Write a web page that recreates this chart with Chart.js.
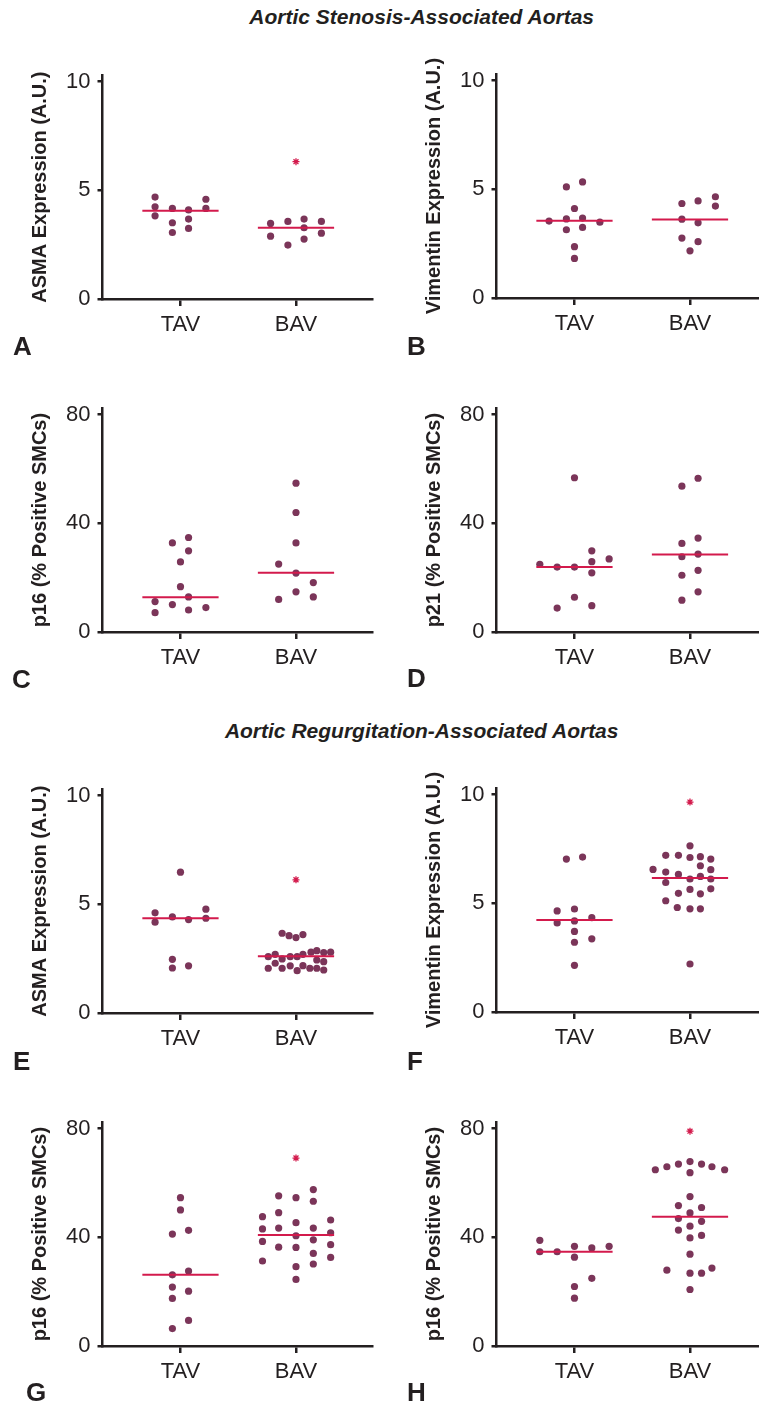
<!DOCTYPE html>
<html>
<head>
<meta charset="utf-8">
<script src="https://cdn.jsdelivr.net/npm/chart.js@4.4.1/dist/chart.umd.min.js"></script>
<style>
  body { margin: 0; background: #fff; }
  #page { position: relative; width: 759px; height: 1404px; overflow: hidden; background: #fff;
          font-family: "Liberation Sans", Arial, Helvetica, sans-serif; color: #231f20; }
  canvas { position: absolute; }
  .head { position: absolute; left: 121.7px; width: 600px; text-align: center;
          font-size: 21px; line-height: 21px; font-weight: bold; font-style: italic; }
  .tag { position: absolute; font-size: 26px; line-height: 26px; font-weight: bold; }
</style>
</head>
<body>
<div id="page">
  <div class="head" style="top:5.5px">Aortic Stenosis-Associated Aortas</div>
  <div class="head" style="top:720px">Aortic Regurgitation-Associated Aortas</div>

  <canvas id="chartA" width="380" height="284" style="left:0;top:55px"></canvas>
  <canvas id="chartB" width="380" height="284" style="left:394px;top:54px"></canvas>
  <canvas id="chartC" width="380" height="284" style="left:0;top:387.5px"></canvas>
  <canvas id="chartD" width="380" height="284" style="left:394px;top:387.5px"></canvas>
  <canvas id="chartE" width="380" height="284" style="left:0;top:769px"></canvas>
  <canvas id="chartF" width="380" height="284" style="left:394px;top:768px"></canvas>
  <canvas id="chartG" width="380" height="284" style="left:0;top:1101.5px"></canvas>
  <canvas id="chartH" width="380" height="284" style="left:394px;top:1101.5px"></canvas>

  <div class="tag" style="left:13px;top:333px">A</div>
  <div class="tag" style="left:407px;top:333px">B</div>
  <div class="tag" style="left:12px;top:666px">C</div>
  <div class="tag" style="left:407px;top:665px">D</div>
  <div class="tag" style="left:13px;top:1048px">E</div>
  <div class="tag" style="left:407px;top:1048px">F</div>
  <div class="tag" style="left:26px;top:1379px">G</div>
  <div class="tag" style="left:407px;top:1379px">H</div>
</div>

<script>
// categories and tick values
const categories = ['TAV', 'BAV'];
const exprTicks = [0, 5, 10];
const pctTicks = [0, 40, 80];

// x values are horizontal spread around each group (in category units), y values are the readings

// A: ASMA, stenosis
const aTavX = [-0.22, -0.22, -0.22, -0.07, -0.07, -0.07, 0.07, 0.07, 0.07, 0.22, 0.22];
const aTavY = [4.69, 4.24, 3.83, 4.17, 3.51, 3.06, 4.10, 3.68, 3.25, 4.59, 4.17];
const aBavX = [-0.22, -0.22, -0.07, -0.07, 0.07, 0.07, 0.07, 0.22, 0.22];
const aBavY = [3.48, 2.89, 3.57, 2.48, 3.68, 3.28, 2.76, 3.57, 3.03];
const aMedians = [4.06, 3.28];
const aStar = 6.32;

// B: Vimentin, stenosis
const bTavX = [-0.22, -0.07, -0.07, -0.07, 0, 0, 0, 0.07, 0.07, 0.07, 0.22];
const bTavY = [3.54, 5.11, 3.64, 3.14, 4.12, 2.36, 1.82, 5.34, 3.68, 3.25, 3.49];
const bBavX = [-0.07, -0.07, -0.07, 0, 0.07, 0.07, 0.07, 0.22, 0.22];
const bBavY = [4.35, 3.63, 2.76, 2.17, 4.47, 3.46, 2.59, 4.66, 4.23];
const bMedians = [3.55, 3.61];
const bStar = null;

// C: p16, stenosis
const cTavX = [-0.22, -0.22, -0.07, -0.07, 0, 0, 0.07, 0.07, 0.07, 0.07, 0.22];
const cTavY = [11.2, 7.1, 32.8, 10.1, 25.8, 16.7, 34.8, 29.9, 12.9, 8.1, 9.0];
const cBavX = [-0.15, -0.15, 0, 0, 0, 0, 0, 0.15, 0.15];
const cBavY = [25.0, 12.0, 54.8, 44.0, 32.8, 21.7, 14.8, 18.2, 12.9];
const cMedians = [12.8, 21.8];
const cStar = null;

// D: p21, stenosis
const dTavX = [-0.30, -0.15, -0.15, 0, 0, 0, 0.15, 0.15, 0.15, 0.15, 0.30];
const dTavY = [24.9, 23.9, 8.8, 56.8, 23.9, 12.8, 29.9, 25.9, 21.8, 9.7, 26.9];
const dBavX = [-0.07, -0.07, -0.07, -0.07, -0.07, 0.07, 0.07, 0.07, 0.07, 0.07];
const dBavY = [53.7, 32.6, 27.7, 20.9, 11.7, 56.6, 34.6, 28.7, 22.7, 14.8];
const dMedians = [23.9, 28.5];
const dStar = null;

// E: ASMA, regurgitation
const eTavX = [-0.22, -0.22, -0.07, -0.07, -0.07, 0, 0.07, 0.07, 0.22, 0.22];
const eTavY = [4.61, 4.18, 4.42, 2.47, 2.07, 6.48, 4.30, 2.17, 4.78, 4.36];
const eBavX = [-0.12, -0.06, 0, 0.06,
               -0.24, -0.18, -0.12, -0.05, 0.01, 0.06, 0.13, 0.18, 0.24, 0.30,
               -0.18, 0.18, 0.24,
               -0.24, -0.12, -0.05, 0.01, 0.06, 0.12, 0.18, 0.24];
const eBavY = [3.67, 3.56, 3.47, 3.61,
               2.59, 2.70, 2.49, 2.59, 2.59, 2.70, 2.80, 2.87, 2.78, 2.80,
               2.29, 2.44, 2.36,
               2.06, 2.06, 2.17, 1.95, 2.18, 2.06, 2.06, 1.98];
const eMedians = [4.36, 2.61];
const eStar = 6.13;

// F: Vimentin, regurgitation
const fTavX = [-0.15, -0.15, -0.07, 0, 0, 0, 0, 0, 0.07, 0.15, 0.15];
const fTavY = [4.65, 4.10, 7.04, 4.74, 4.19, 3.71, 3.21, 2.15, 7.13, 4.34, 3.37];
const fBavX = [0, -0.21, -0.10, 0, 0.09, 0.18, 0.09, -0.32, -0.21, -0.10, 0.18, 0,
               0.09, 0.18, -0.21, 0, -0.10, 0.09, 0.18, -0.21, -0.11, 0, 0.09, 0];
const fBavY = [7.65, 7.21, 7.21, 7.11, 7.15, 7.04, 6.73, 6.56, 6.44, 6.33, 6.55, 6.12,
               6.24, 6.12, 5.96, 5.64, 5.46, 5.44, 5.67, 5.12, 4.81, 4.75, 4.75, 2.21];
const fMedians = [4.23, 6.17];
const fStar = 9.66;

// G: p16, regurgitation
const gTavX = [0, 0, -0.07, 0.07, -0.07, 0.07, -0.07, 0.07, -0.07, 0.07, -0.07];
const gTavY = [54.6, 50.1, 41.2, 42.6, 26.2, 27.6, 21.7, 20.2, 17.5, 9.4, 6.4];
const gBavX = [-0.29, -0.29, -0.29, -0.29, -0.15, -0.15, -0.15, -0.15, 0, 0, 0, 0, 0, 0,
               0.15, 0.15, 0.15, 0.15, 0.15, 0.15, 0.30, 0.30, 0.30, 0.30];
const gBavY = [47.6, 43.1, 38.5, 31.3, 55.3, 49.1, 43.4, 36.4, 54.6, 45.4, 40.6, 36.3, 29.2, 24.5,
               57.6, 53.3, 43.4, 39.1, 34.1, 30.2, 46.4, 41.7, 37.3, 32.6];
const gMedians = [26.2, 40.9];
const gStar = 69.2;

// H: p16, regurgitation
const hTavX = [-0.30, -0.30, -0.15, 0, 0, 0, 0, 0.15, 0.15, 0.30];
const hTavY = [38.9, 34.7, 34.7, 36.7, 32.7, 21.9, 17.6, 36.1, 24.9, 36.7];
const hBavX = [-0.30, -0.20, -0.10, 0, 0, 0.10, 0.19, 0.30, 0, -0.10, 0.10, 0, -0.10, 0.10,
               -0.10, 0, 0, 0.10, 0, -0.20, 0, 0.10, 0.19, 0];
const hBavY = [64.9, 66.0, 67.0, 67.9, 63.8, 67.0, 66.0, 64.9, 55.0, 51.7, 51.0, 49.0, 46.9, 45.9,
               42.7, 44.1, 39.8, 40.7, 33.8, 27.9, 26.8, 26.8, 28.7, 20.8];
const hMedians = [34.7, 47.6];
const hStar = 79.1;

const INK = '#231f20';
const DOT = '#7b3559';
const RED = '#d31a4c';
const FAMILY = '"Liberation Sans", Arial, Helvetica, sans-serif';

function makePanel(id, tavX, tavY, bavX, bavY, medians, star, ticks, yMax, yTitle) {
    const dots = [];
    tavX.forEach((dx, i) => dots.push({ x: 1 + dx, y: tavY[i] }));
    bavX.forEach((dx, i) => dots.push({ x: 2 + dx, y: bavY[i] }));

    const datasets = [];
    // median bars
    medians.forEach((m, i) => {
        datasets.push({
            type: 'line',
            data: [{ x: i + 1 - 0.33, y: m }, { x: i + 1 + 0.33, y: m }],
            borderColor: RED,
            borderWidth: 2,
            pointRadius: 0,
            order: 0
        });
    });
    datasets.push({
        type: 'scatter',
        data: dots,
        backgroundColor: DOT,
        borderWidth: 0,
        pointRadius: 3.6,
        order: 1
    });
    if (star !== null) {
        datasets.push({
            type: 'scatter',
            data: [{ x: 2, y: star }],
            pointStyle: 'star',
            pointRadius: 3.5,
            borderColor: RED,
            borderWidth: 1.3,
            order: 0
        });
    }

    new Chart(document.getElementById(id), {
        type: 'scatter',
        data: { datasets: datasets },
        options: {
            responsive: false,
            animation: false,
            layout: { padding: { top: 20, right: 8, left: 0, bottom: 0 } },
            plugins: { legend: { display: false }, tooltip: { enabled: false } },
            scales: {
                x: {
                    type: 'linear',
                    min: 0.325,
                    max: 2.658,
                    afterBuildTicks: s => { s.ticks = [{ value: 1 }, { value: 2 }]; },
                    afterFit: s => { s.height = 40; },
                    ticks: {
                        callback: v => categories[Math.round(v) - 1],
                        font: { size: 22, family: FAMILY },
                        color: INK,
                        padding: 6,
                        maxRotation: 0,
                        autoSkip: false
                    },
                    grid: { drawOnChartArea: false, tickLength: 7, lineWidth: 2.5, color: INK },
                    border: { color: INK, width: 2.5 }
                },
                y: {
                    min: 0,
                    max: yMax,
                    afterBuildTicks: s => { s.ticks = ticks.map(v => ({ value: v })); },
                    afterFit: s => { s.width = 102.5; },
                    ticks: {
                        font: { size: 22, family: FAMILY },
                        color: INK,
                        padding: 7
                    },
                    grid: { drawOnChartArea: false, tickLength: 5, lineWidth: 2.5, color: INK },
                    border: { color: INK, width: 2.5 },
                    title: {
                        display: true,
                        text: yTitle,
                        color: INK,
                        font: { size: 20, weight: 'bold', family: FAMILY },
                        padding: { top: 28, bottom: 0 }
                    }
                }
            }
        }
    });
}

makePanel('chartA', aTavX, aTavY, aBavX, aBavY, aMedians, aStar, exprTicks, 10.3, 'ASMA Expression (A.U.)');
makePanel('chartB', bTavX, bTavY, bBavX, bBavY, bMedians, bStar, exprTicks, 10.3, 'Vimentin Expression (A.U.)');
makePanel('chartC', cTavX, cTavY, cBavX, cBavY, cMedians, cStar, pctTicks, 82.4, 'p16 (% Positive SMCs)');
makePanel('chartD', dTavX, dTavY, dBavX, dBavY, dMedians, dStar, pctTicks, 82.4, 'p21 (% Positive SMCs)');
makePanel('chartE', eTavX, eTavY, eBavX, eBavY, eMedians, eStar, exprTicks, 10.3, 'ASMA Expression (A.U.)');
makePanel('chartF', fTavX, fTavY, fBavX, fBavY, fMedians, fStar, exprTicks, 10.3, 'Vimentin Expression (A.U.)');
makePanel('chartG', gTavX, gTavY, gBavX, gBavY, gMedians, gStar, pctTicks, 82.4, 'p16 (% Positive SMCs)');
makePanel('chartH', hTavX, hTavY, hBavX, hBavY, hMedians, hStar, pctTicks, 82.4, 'p16 (% Positive SMCs)');
</script>
</body>
</html>
